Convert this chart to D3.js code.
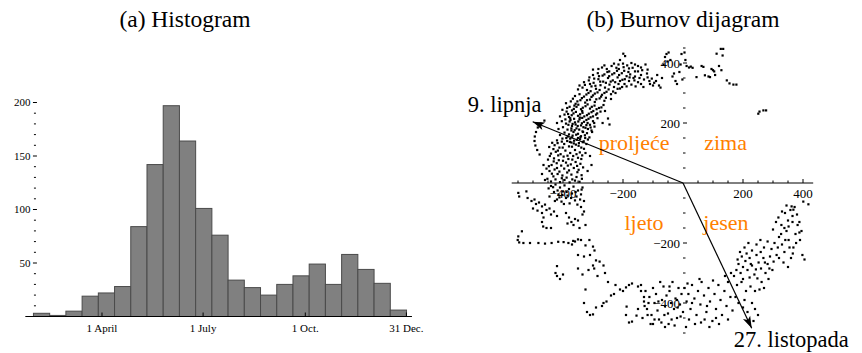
<!DOCTYPE html>
<html>
<head>
<meta charset="utf-8">
<script src="https://cdn.jsdelivr.net/npm/d3@7"></script>
<style>
  body { margin: 0; background: #fff; }
  svg { display: block; }
  text { font-family: "Liberation Serif", "Times New Roman", serif; fill: #000; }
</style>
</head>
<body>
<svg id="chart" width="862" height="353"></svg>
<script>
// ---- histogram data (counts per 14.6-day bin, starting at day 29.3) ----
const histCounts = [3, 1, 5, 19, 22, 28, 84, 142, 197, 164, 101, 76, 34, 27, 20, 30, 38, 49, 30, 58, 44, 31, 6];
const binStartDay = 29.3;
const binDays = 14.6;
const histTickDays = [91, 182, 274, 365];
const histTickLabels = ['1 April', '1 July', '1 Oct.', '31 Dec.'];
const histYTicks = [50, 100, 150, 200];

// ---- Burn diagram data ----
const burnTicks = [-400, -200, 200, 400];
const seasonLabels = [
  { text: 'proljeće', x: -163, y: 110 },
  { text: 'zima', x: 142, y: 110 },
  { text: 'ljeto', x: -130, y: -157 },
  { text: 'jesen', x: 143, y: -157 }
];
const arrows = [
  { label: '9. lipnja', x: -501, y: 204 },
  { label: '27. listopada', x: 229, y: -484 }
];

// points, [x, y] in diagram units
const springPoints = [
  [-440,5],[-425,12],[-410,3],[-395,10],[-378,2],[-360,8],[-345,4],[-432,22],[-418,30],[-402,25],[-388,18],[-372,28],[-355,20],[-338,26],
  [-445,40],[-428,45],[-412,38],[-396,48],[-380,42],[-364,50],[-348,44],[-333,52],[-438,60],[-421,66],[-406,58],[-390,68],[-374,62],[-358,70],
  [-342,64],[-450,78],[-430,82],[-414,76],[-398,88],[-382,80],[-366,90],[-350,84],[-336,92],[-440,98],[-424,104],[-408,96],[-392,108],[-376,100],
  [-360,110],[-344,102],[-330,114],[-446,120],[-428,126],[-412,118],[-396,130],[-380,122],[-364,132],[-348,124],[-334,136],[-420,142],[-402,148],
  [-386,140],[-370,152],[-354,144],[-340,156],[-318,40],[-310,90],[-322,130],[-305,60],
  [-478,95],[-486,110],[-492,125],[-495,140],[-494,155],[-490,170],[-484,185],[-475,198],[-462,208],
  [-410,160],[-395,168],[-380,162],[-365,170],[-350,164],[-335,172],[-320,166],[-305,175],[-415,180],[-400,186],[-385,178],[-370,190],[-355,182],
  [-340,192],[-325,184],[-310,194],[-295,188],[-420,200],[-404,206],[-390,198],[-375,210],[-360,202],[-345,212],[-330,204],[-315,214],[-300,206],
  [-285,216],[-410,222],[-395,228],[-380,220],[-365,232],[-350,224],[-335,234],[-320,226],[-305,236],[-290,228],[-275,238],[-402,244],[-386,250],
  [-370,242],[-355,254],[-340,246],[-325,256],[-310,248],[-295,258],[-280,250],[-265,260],[-390,266],[-374,272],[-358,264],[-342,276],[-326,268],
  [-310,278],[-294,270],[-278,282],[-262,274],[-372,175],[-358,195],[-344,218],[-388,238],[-362,258],[-336,240],[-318,200],[-300,222],[-350,150],
  [-376,148],[-332,186],[-378,205],[-250,215],[-260,240],[-245,195],[-268,200],
  [-360,290],[-345,296],[-330,288],[-315,300],[-300,292],[-285,302],[-270,294],[-255,304],[-240,296],[-350,312],[-335,318],[-320,310],[-305,322],
  [-290,314],[-275,326],[-260,318],[-245,328],[-230,320],[-215,330],[-330,336],[-314,342],[-298,334],[-282,346],[-266,338],[-250,350],[-234,342],
  [-218,352],[-202,344],[-300,360],[-284,366],[-268,358],[-252,370],[-236,362],[-220,374],[-204,366],[-188,356],[-270,385],[-254,380],[-238,390],
  [-222,384],[-300,378],[-240,280],[-225,300],[-210,315],[-195,330],[-180,340],[-165,350],[-150,336],[-176,362],[-160,372],[-140,360],[-130,345],
  [-118,352],[-104,348],[-210,410],[-200,398],[-186,392],[-172,400],[-199,431],[-193,423],[-215,395],
  [-377,137],[-363,141],[-347,133],[-331,139],[-317,145],[-384,155],[-368,158],[-356,161],[-342,153],[-327,159],[-312,152],[-372,182],[-361,176],
  [-346,178],[-333,170],[-317,180],[-303,170],[-382,194],[-368,197],[-351,190],[-337,199],[-322,193],[-308,185],[-392,212],[-376,216],[-363,214],
  [-349,205],[-336,217],[-322,210],[-308,219],[-296,200],[-383,230],[-371,226],[-357,237],[-343,229],[-329,222],[-314,231],[-299,240],[-286,232],
  [-378,254],[-364,247],[-349,261],[-334,251],[-318,262],[-304,254],[-288,246],[-272,252],[-367,281],[-352,272],[-337,283],[-320,276],[-305,287],
  [-289,279],[-273,288],[-257,284],
  [-452,14],[-437,31],[-420,50],[-404,16],[-386,35],[-369,12],[-352,36],[-337,14],[-447,56],[-431,72],[-416,92],[-400,74],[-384,58],[-369,78],
  [-353,57],[-339,80],[-444,90],[-432,113],[-417,108],[-401,118],[-385,91],[-370,121],[-355,96],[-339,118],[-325,100],[-436,134],[-418,133],
  [-404,138],[-389,150],[-372,135],[-357,128],[-343,146],[-326,150],[-470,30],[-465,60],[-460,10],[-455,48],
  [-322,295],[-308,306],[-294,298],[-278,310],[-262,300],[-248,312],[-233,305],[-218,314],[-203,320],[-188,322],[-172,328],[-158,322],[-345,325],
  [-327,327],[-310,330],[-292,324],[-276,338],[-257,334],[-241,338],[-226,336],[-210,340],[-194,346],[-178,352],[-162,342],[-145,350],[-312,352],
  [-296,348],[-280,356],[-262,362],[-246,356],[-229,366],[-213,360],[-196,374],[-182,370],[-168,384],[-150,372],[-136,376],[-282,380],[-262,392],
  [-246,372],[-230,398],[-214,380],[-198,386],[-180,382],[-160,355],[-120,365],[-112,340],[-140,385]
];
const winterPoints = [
  [-140,330],[-132,320],[-125,395],[-118,378],[-110,330],[-100,325],[-96,334],[-90,340],[-86,360],[-80,325],[-75,318],[-70,350],[-65,395],
  [-60,420],[-55,430],[-52,405],[-48,435],[-42,410],[-35,355],[-30,365],[-25,340],[-20,330],[-12,370],[-5,430],[-2,345],[5,435],[8,410],
  [12,390],[-8,395],[20,385],[26,388],[32,384],[45,353],[62,390],[68,387],[73,359],[85,355],[90,353],[95,380],[100,376],[104,372],[107,360],
  [112,431],[120,390],[126,447],[134,447],[132,425],[128,376],[146,342],[155,332],[168,328],[178,328],[251,231],[255,238],[268,242],[277,242],
  [-150,390],[-160,395]
];
const summerPoints = [
  [-440,-10],[-425,-5],[-410,-15],[-395,-8],[-380,-20],[-365,-12],[-350,-25],[-335,-15],[-430,-30],[-415,-38],[-400,-28],[-385,-42],[-370,-35],
  [-355,-45],[-340,-38],[-420,-55],[-405,-62],[-390,-50],[-360,-58],[-330,-60],
  [-448,-18],[-433,-14],[-418,-25],[-402,-40],[-388,-30],[-373,-50],[-358,-30],[-343,-55],[-445,-45],[-427,-60],[-412,-48],[-397,-70],[-378,-68],
  [-352,-72],[-338,-22],
  [-549,-33],[-546,-45],[-522,-28],[-518,-50],[-505,-60],[-495,-55],[-490,-70],[-480,-65],[-470,-78],[-460,-72],[-500,-85],[-485,-92],[-470,-100],
  [-455,-90],[-445,-85],[-440,-105],[-430,-95],[-420,-110],[-465,-115],[-470,-130],[-466,-145],[-455,-150],[-440,-150],
  [-390,-100],[-380,-115],[-372,-130],[-365,-140],[-385,-135],[-360,-120],[-345,-150],[-350,-125],[-330,-95],[-325,-140],[-340,-80],[-335,-105],
  [-537,-161],[-549,-178],[-551,-190],[-546,-198],[-532,-200],[-510,-200],[-482,-200],[-460,-202],[-438,-200],[-416,-196],[-398,-197],[-382,-200],
  [-366,-193],[-370,-205],[-360,-195],[-350,-188],[-340,-190],[-325,-208],[-312,-190],[-300,-212],[-295,-225],[-330,-245],[-350,-240],[-310,-240],
  [-290,-258],[-278,-262],[-300,-275],[-296,-285],[-315,-290],[-350,-285],[-335,-305],[-265,-275],[-260,-300],[-285,-310],[-250,-330],
  [-420,-277],[-425,-300],[-420,-310],[-400,-305],[-410,-320],
  [-325,-355],[-330,-400],[-320,-430],[-310,-440],[-300,-438],[-290,-415],[-270,-410],[-265,-400],[-255,-395],[-240,-375],[-230,-370],[-225,-340],
  [-210,-355],[-200,-360],[-190,-348],[-180,-340],[-170,-335],[-188,-412],[-190,-440],[-180,-465],[-170,-462],[-155,-442],[-150,-345],[-140,-360],
  [-130,-380],[-115,-400]
];
const autumnPoints = [
  [-140,-340],[-130,-395],[-125,-360],[-120,-420],[-112,-380],[-105,-440],[-100,-350],[-95,-400],[-90,-370],[-85,-425],[-80,-455],[-76,-330],
  [-70,-390],[-65,-345],[-60,-410],[-55,-375],[-50,-435],[-45,-360],[-40,-400],[-35,-330],[-30,-420],[-25,-385],[-20,-450],[-15,-350],[-10,-405],
  [-5,-370],[0,-430],[-128,-410],[-118,-440],[-108,-470],[-95,-455],[-82,-395],[-72,-465],[-62,-440],[-48,-470],[-38,-455],[-28,-475],[-18,-415],
  [-8,-445],[-135,-450],[-150,-420],
  [5,-350],[12,-395],[18,-370],[25,-420],[30,-340],[38,-385],[45,-440],[50,-360],[58,-405],[62,-330],[70,-375],[78,-430],[85,-350],[90,-395],
  [98,-460],[105,-370],[110,-420],[118,-340],[125,-390],[130,-440],[138,-360],[145,-410],[150,-330],[158,-380],[165,-425],[20,-455],[40,-470],
  [72,-455],[88,-480],[120,-470],[15,-335],[55,-320],[100,-325],[140,-310],[160,-300],
  [170,-310],[178,-290],[185,-270],[192,-300],[200,-280],[208,-260],[215,-290],[222,-250],[230,-275],[238,-305],[245,-240],[252,-265],[260,-285],
  [268,-250],[275,-300],[282,-270],[290,-245],[298,-290],[180,-340],[195,-330],[210,-360],[225,-345],[240,-360],[255,-355],[270,-350],[185,-400],
  [200,-415],[215,-430],[230,-400],[240,-420],[250,-440],[235,-460],[175,-380],[205,-390],
  [190,-230],[205,-215],[218,-200],[230,-225],[245,-205],[258,-190],[270,-215],[282,-195],[295,-220],[305,-200],[312,-240],[320,-180],[330,-205],
  [338,-230],[345,-160],[352,-190],[360,-250],[368,-215],[375,-170],[382,-140],[390,-190],[398,-240],[405,-255],[320,-250],[335,-265],[350,-280],
  [300,-155],[310,-130],[318,-115],[328,-140],[340,-100],[350,-125],[358,-90],[365,-110],[372,-80],[380,-105],[388,-130],[395,-160],[362,-78],
  [368,-89],[401,-62],[418,-71],[345,-75],[330,-95],
  [182,-255],[196,-245],[212,-235],[226,-270],[243,-288],[259,-230],[273,-265],[288,-285],[302,-262],[316,-215],[327,-170],[341,-190],[355,-215],
  [366,-235],[377,-200],[388,-165],[338,-150],[352,-145],[365,-130],[200,-320],[222,-315],[248,-318],[262,-330],[285,-320],[-100,-470],[-60,-480],
  [10,-480],[60,-465],[110,-450],[150,-455],[-20,-390],[-45,-345],[30,-400],[80,-410]
];

const svg = d3.select('#chart');
const orange = '#ff8000';

// ================= (a) Histogram =================
const hx = d3.scaleLinear().domain([0, 365]).range([0.9, 406.4]);
const hy = d3.scaleLinear().domain([0, 200]).range([316.5, 102.5]);

svg.append('text')
  .attr('x', 185).attr('y', 27)
  .attr('text-anchor', 'middle')
  .attr('font-size', 23.5)
  .text('(a) Histogram');

const hist = svg.append('g');

hist.selectAll('rect')
  .data(histCounts)
  .enter()
  .append('rect')
  .attr('x', (d, i) => hx(binStartDay + i * binDays))
  .attr('width', hx(binDays) - hx(0))
  .attr('y', d => hy(d))
  .attr('height', d => hy(0) - hy(d))
  .attr('fill', '#808080')
  .attr('stroke', '#4a4a4a')
  .attr('stroke-width', 1);

// x axis line with small ticks
hist.append('line')
  .attr('x1', hx(22)).attr('x2', hx(370))
  .attr('y1', hy(0)).attr('y2', hy(0))
  .attr('stroke', '#000').attr('stroke-width', 1);

hist.selectAll('.xtick')
  .data(histTickDays)
  .enter()
  .append('line')
  .attr('x1', d => hx(d)).attr('x2', d => hx(d))
  .attr('y1', hy(0)).attr('y2', hy(0) - 4)
  .attr('stroke', '#000');

hist.selectAll('.xlabel')
  .data(histTickLabels)
  .enter()
  .append('text')
  .attr('x', (d, i) => hx(histTickDays[i]))
  .attr('y', 332)
  .attr('text-anchor', 'middle')
  .attr('font-size', 11)
  .text(d => d);

// y ticks only (no axis line), minor every 10
const yAxisX = hx(binStartDay);
hist.selectAll('.yminor')
  .data(d3.range(10, 201, 10).filter(v => v % 50 !== 0))
  .enter()
  .append('line')
  .attr('x1', yAxisX + 0.5).attr('x2', yAxisX + 2.5)
  .attr('y1', d => hy(d)).attr('y2', d => hy(d))
  .attr('stroke', '#000');

hist.selectAll('.ymajor')
  .data(histYTicks)
  .enter()
  .append('line')
  .attr('x1', yAxisX - 0.5).attr('x2', yAxisX + 3.5)
  .attr('y1', d => hy(d)).attr('y2', d => hy(d))
  .attr('stroke', '#000');

hist.selectAll('.ylabel')
  .data(histYTicks)
  .enter()
  .append('text')
  .attr('x', yAxisX - 3)
  .attr('y', d => hy(d))
  .attr('dy', '0.35em')
  .attr('text-anchor', 'end')
  .attr('font-size', 11)
  .text(d => d);

// ================= (b) Burn diagram =================
const bx = d3.scaleLinear().domain([-400, 400]).range([563, 803]);
const by = d3.scaleLinear().domain([-400, 400]).range([303, 63]);

svg.append('text')
  .attr('x', 683).attr('y', 27)
  .attr('text-anchor', 'middle')
  .attr('font-size', 23.5)
  .text('(b) Burnov dijagram');

const burn = svg.append('g');

const allPoints = springPoints.concat(winterPoints, summerPoints, autumnPoints);
burn.selectAll('rect')
  .data(allPoints)
  .enter()
  .append('rect')
  .attr('x', d => bx(d[0]) - 1.1)
  .attr('y', d => by(d[1]) - 1.1)
  .attr('width', 2.2)
  .attr('height', 2.2)
  .attr('fill', '#000');

// horizontal axis with ticks pointing up
burn.append('line')
  .attr('x1', bx(-571)).attr('x2', bx(434))
  .attr('y1', by(0)).attr('y2', by(0))
  .attr('stroke', '#000');

burn.selectAll('.bxt')
  .data(d3.range(-550, 401, 50).filter(v => v !== 0))
  .enter()
  .append('line')
  .attr('x1', d => bx(d)).attr('x2', d => bx(d))
  .attr('y1', by(0)).attr('y2', d => by(0) - (d % 200 === 0 ? 4 : 2.5))
  .attr('stroke', '#000');

burn.selectAll('.byt')
  .data(d3.range(-500, 451, 50).filter(v => v !== 0))
  .enter()
  .append('line')
  .attr('x1', bx(0)).attr('x2', d => bx(0) + (d % 200 === 0 ? 4 : 2.5))
  .attr('y1', d => by(d)).attr('y2', d => by(d))
  .attr('stroke', '#000');

burn.selectAll('.bxl')
  .data(burnTicks)
  .enter()
  .append('text')
  .attr('x', d => bx(d))
  .attr('y', by(0) + 15)
  .attr('text-anchor', 'middle')
  .attr('font-size', 13)
  .text(d => d3.format('d')(d).replace('-', '\u2212'));

burn.selectAll('.byl')
  .data(burnTicks)
  .enter()
  .append('text')
  .attr('x', bx(0) - 3)
  .attr('y', d => by(d))
  .attr('dy', '0.35em')
  .attr('text-anchor', 'end')
  .attr('font-size', 13)
  .text(d => d3.format('d')(d).replace('-', '\u2212'));

// season labels
burn.selectAll('.season')
  .data(seasonLabels)
  .enter()
  .append('text')
  .attr('x', d => bx(d.x))
  .attr('y', d => by(d.y))
  .attr('text-anchor', 'middle')
  .attr('font-size', 22)
  .style('fill', orange)
  .text(d => d.text);

// mean direction arrows
svg.append('defs').append('marker')
  .attr('id', 'head')
  .attr('viewBox', '0 0 12 10')
  .attr('refX', 12).attr('refY', 5)
  .attr('markerWidth', 13).attr('markerHeight', 10)
  .attr('markerUnits', 'userSpaceOnUse')
  .attr('orient', 'auto')
  .append('path')
  .attr('d', 'M0,1 L12,5 L0,9 L3,5 Z')
  .attr('fill', '#000');

burn.selectAll('.arrow')
  .data(arrows)
  .enter()
  .append('line')
  .attr('x1', bx(0)).attr('y1', by(0))
  .attr('x2', d => bx(d.x)).attr('y2', d => by(d.y))
  .attr('stroke', '#000')
  .attr('stroke-width', 1.2)
  .attr('marker-end', 'url(#head)');

burn.selectAll('.alabel')
  .data(arrows)
  .enter()
  .append('text')
  .attr('x', d => d.x < 0 ? bx(d.x) - 65 : bx(d.x) - 18)
  .attr('y', d => d.y > 0 ? by(d.y) - 10 : by(d.y) + 19)
  .attr('font-size', 22.5)
  .text(d => d.label);
</script>
</body>
</html>
